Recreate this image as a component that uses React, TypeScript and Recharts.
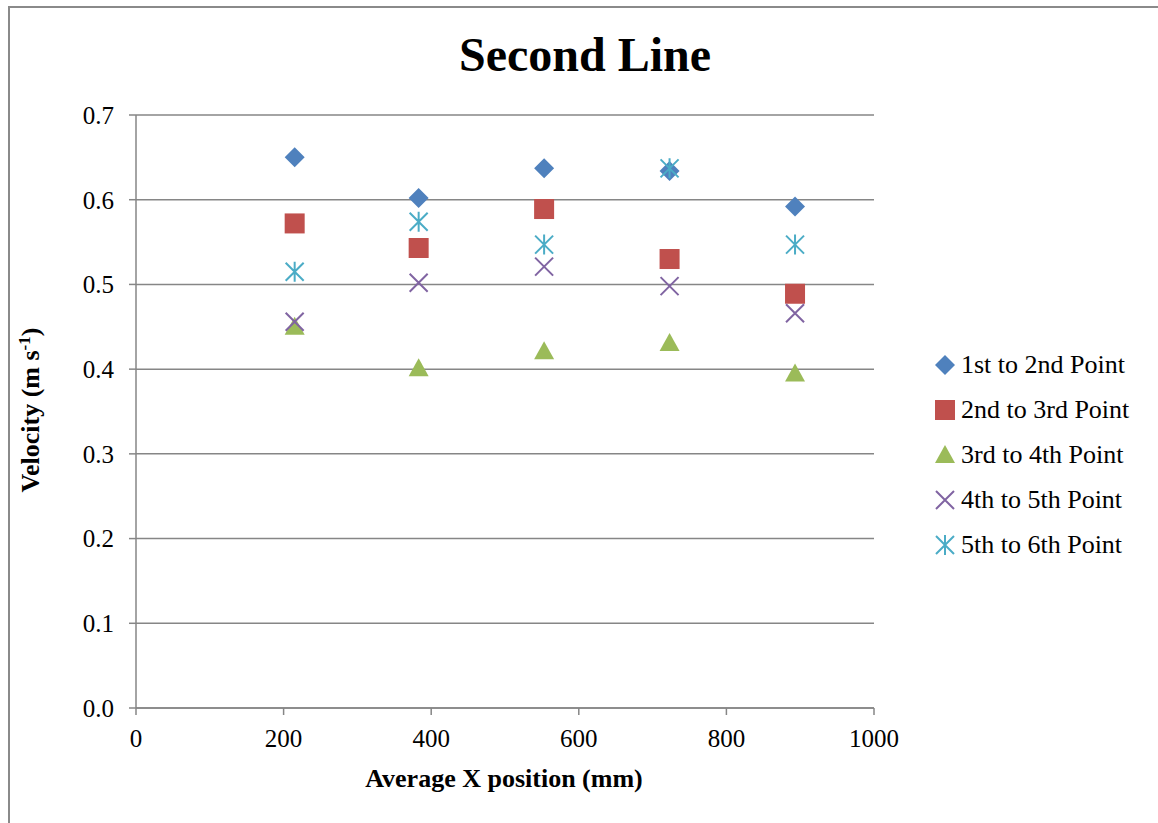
import React from 'react'
import { ScatterChart, Scatter, XAxis, YAxis, CartesianGrid, Label } from 'recharts'

const xPositions = [215, 383, 553, 723, 893]
const firstToSecond = [0.65, 0.602, 0.637, 0.634, 0.592]
const secondToThird = [0.572, 0.543, 0.589, 0.53, 0.489]
const thirdToFourth = [0.45, 0.401, 0.421, 0.431, 0.395]
const fourthToFifth = [0.456, 0.502, 0.521, 0.498, 0.466]
const fifthToSixth = [0.515, 0.574, 0.547, 0.637, 0.547]

const xTicks = [0, 200, 400, 600, 800, 1000]
const yTicks = [0, 0.1, 0.2, 0.3, 0.4, 0.5, 0.6, 0.7]

const FONT = '"Liberation Serif", "Times New Roman", serif'
const GRID = '#868686'

const toPoints = (vals: number[]) => vals.map((v, i) => ({ x: xPositions[i], y: v }))

// marker shapes, Excel style
function Diamond({ cx, cy, fill }: any) {
  const r = 10
  return <path d={`M${cx},${cy - r}L${cx + r},${cy}L${cx},${cy + r}L${cx - r},${cy}Z`} fill={fill} />
}
function Square({ cx, cy, fill }: any) {
  const r = 10
  return <rect x={cx - r} y={cy - r} width={2 * r} height={2 * r} fill={fill} />
}
function Triangle({ cx, cy, fill }: any) {
  const r = 10
  return <path d={`M${cx},${cy - r}L${cx + r},${cy + 8}L${cx - r},${cy + 8}Z`} fill={fill} />
}
function Cross({ cx, cy, fill }: any) {
  const r = 9
  return (
    <path
      d={`M${cx - r},${cy - r}L${cx + r},${cy + r}M${cx + r},${cy - r}L${cx - r},${cy + r}`}
      stroke={fill}
      strokeWidth={2}
      fill="none"
    />
  )
}
function Asterisk({ cx, cy, fill }: any) {
  const r = 9
  return (
    <path
      d={`M${cx - r},${cy - r}L${cx + r},${cy + r}M${cx + r},${cy - r}L${cx - r},${cy + r}M${cx},${cy - r - 1}L${cx},${cy + r + 1}`}
      stroke={fill}
      strokeWidth={2}
      fill="none"
    />
  )
}

const series = [
  { name: '1st to 2nd Point', data: firstToSecond, color: '#4F81BD', Shape: Diamond },
  { name: '2nd to 3rd Point', data: secondToThird, color: '#C0504D', Shape: Square },
  { name: '3rd to 4th Point', data: thirdToFourth, color: '#9BBB59', Shape: Triangle },
  { name: '4th to 5th Point', data: fourthToFifth, color: '#8064A2', Shape: Cross },
  { name: '5th to 6th Point', data: fifthToSixth, color: '#4BACC6', Shape: Asterisk },
]

function YLabel() {
  return (
    <text
      x={29}
      y={402}
      transform="rotate(-90 29 402)"
      textAnchor="middle"
      fontFamily={FONT}
      fontWeight="bold"
      fontSize={26}
      fill="#000"
    >
      Velocity (m s
      <tspan dy={-9} fontSize={17}>-1</tspan>
      <tspan dy={9}>)</tspan>
    </text>
  )
}

function XLabel() {
  return (
    <text x={494} y={779} textAnchor="middle" fontFamily={FONT} fontWeight="bold" fontSize={26} fill="#000">
      Average X position (mm)
    </text>
  )
}

export default function App() {
  return (
    <div
      style={{
        position: 'absolute',
        left: 8,
        top: 6,
        width: 1170,
        height: 840,
        border: '2px solid #8a8a8a',
        background: '#fff',
        overflow: 'hidden',
      }}
    >
      <div
        style={{
          position: 'absolute',
          left: 0,
          top: 19,
          width: 1150,
          textAlign: 'center',
          fontFamily: FONT,
          fontWeight: 'bold',
          fontSize: 48,
          color: '#000',
        }}
      >
        Second Line
      </div>
      <div style={{ position: 'absolute', left: 0, top: 0 }}>
        <ScatterChart width={1160} height={830} margin={{ top: 107, right: 296, bottom: 58, left: 66 }}>
          <CartesianGrid vertical={false} stroke={GRID} strokeWidth={1.5} />
          <XAxis
            type="number"
            dataKey="x"
            domain={[0, 1000]}
            ticks={xTicks}
            height={72}
            axisLine={{ stroke: GRID, strokeWidth: 1.5 }}
            tickLine={{ stroke: GRID, strokeWidth: 1.5 }}
            tickSize={7}
            tick={{ fontFamily: FONT, fontSize: 25, fill: '#000', dy: 12 }}
          >
            <Label content={<XLabel />} />
          </XAxis>
          <YAxis
            type="number"
            dataKey="y"
            domain={[0, 0.7]}
            ticks={yTicks}
            width={60}
            axisLine={{ stroke: GRID, strokeWidth: 1.5 }}
            tickLine={{ stroke: GRID, strokeWidth: 1.5 }}
            tickSize={7}
            tickFormatter={(v: number) => v.toFixed(1)}
            tick={{ fontFamily: FONT, fontSize: 25, fill: '#000', dx: -13 }}
          >
            <Label content={<YLabel />} />
          </YAxis>
          {series.map(s => (
            <Scatter
              key={s.name}
              name={s.name}
              data={toPoints(s.data)}
              fill={s.color}
              shape={<s.Shape />}
              isAnimationActive={false}
            />
          ))}
        </ScatterChart>
      </div>
      {/* legend */}
      <div style={{ position: 'absolute', left: 922, top: 334 }}>
        {series.map(s => (
          <div key={s.name} style={{ display: 'flex', alignItems: 'center', height: 45 }}>
            <svg width={28} height={24}>
              <s.Shape cx={13} cy={12} fill={s.color} />
            </svg>
            <span style={{ fontFamily: FONT, fontSize: 26, color: '#000', marginLeft: 1 }}>{s.name}</span>
          </div>
        ))}
      </div>
    </div>
  )
}
